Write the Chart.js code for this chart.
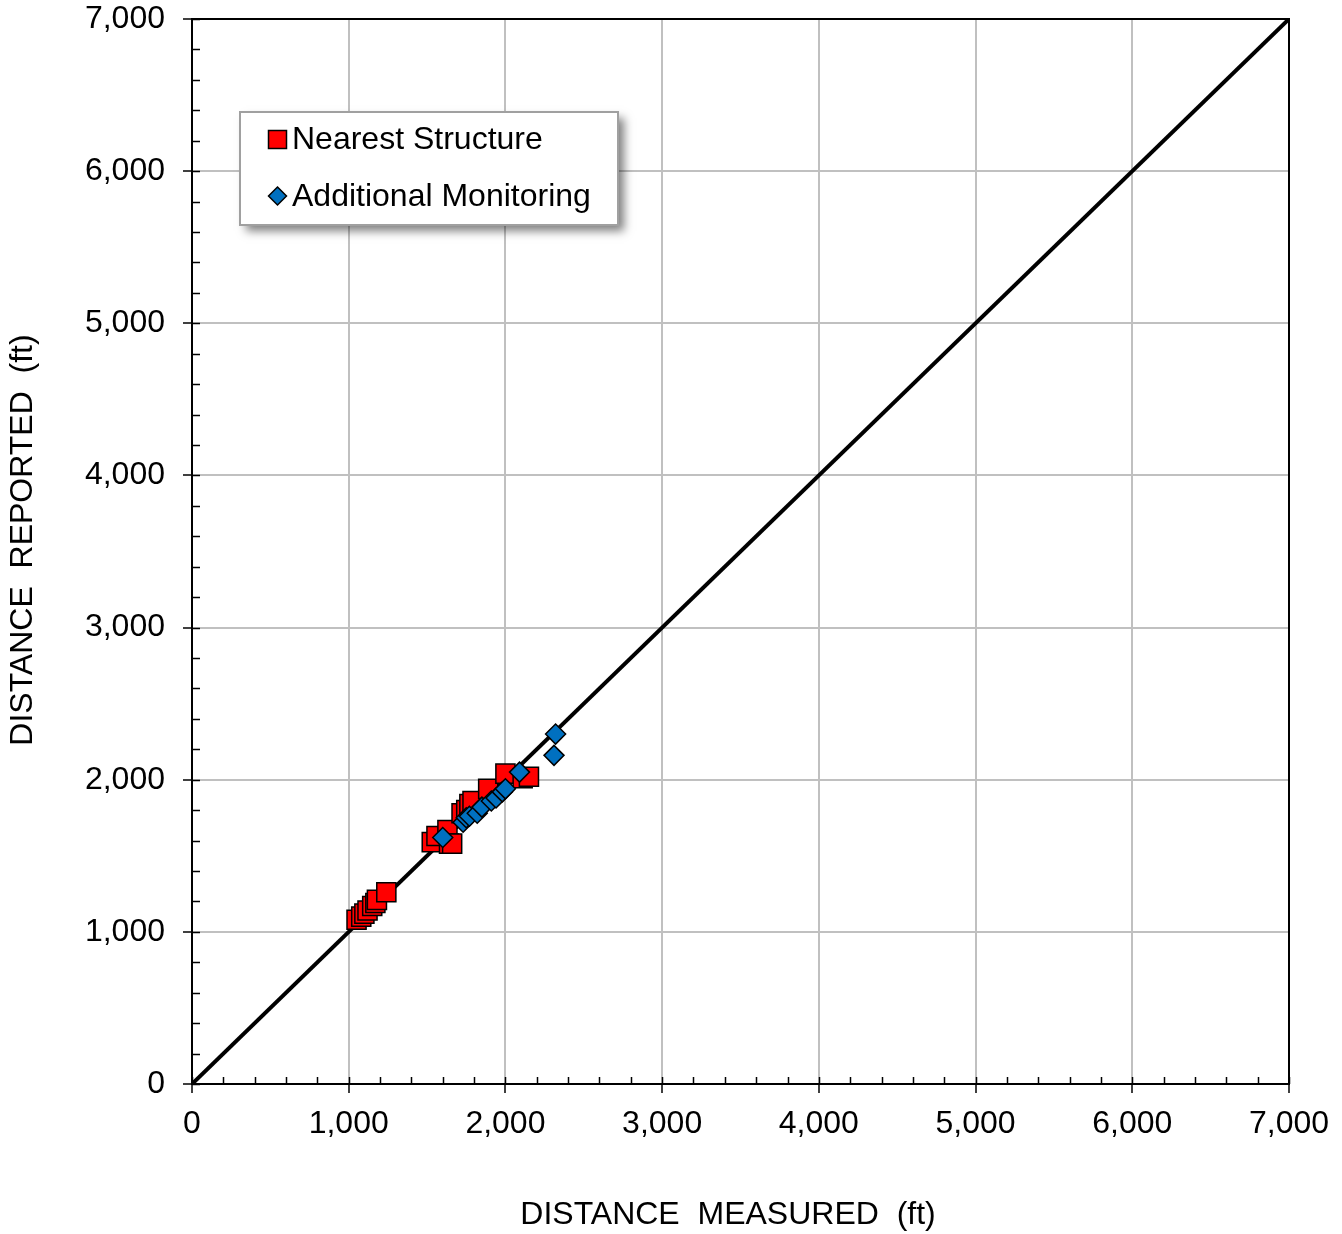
<!DOCTYPE html>
<html>
<head>
<meta charset="utf-8">
<script src="https://cdn.jsdelivr.net/npm/chart.js@4/dist/chart.umd.min.js"></script>
<style>
  html, body { margin: 0; padding: 0; background: #ffffff; }
  #wrap { width: 1342px; height: 1234px; }
</style>
</head>
<body>
<div id="wrap"><canvas id="c" width="1342" height="1234"></canvas></div>
<script>
// Nearest structure: measured vs reported distance (ft)
const nearestMeasured = [1050, 1080, 1100, 1120, 1150, 1170, 1180, 1240,
                         1530, 1560, 1630, 1640, 1660,
                         1720, 1750, 1770, 1790, 1890, 2000, 2110, 2150];
const nearestReported = [1080, 1100, 1120, 1140, 1170, 1190, 1210, 1260,
                         1590, 1630, 1670, 1580, 1580,
                         1780, 1800, 1840, 1860, 1940, 2040, 2010, 2020];

// Additional monitoring locations
const monitorMeasured = [1600, 1730, 1750, 1770, 1820, 1850, 1910, 1940, 1980, 2000, 2090, 2310, 2320];
const monitorReported = [1620, 1720, 1750, 1760, 1780, 1820, 1860, 1880, 1920, 1940, 2050, 2160, 2300];

// 1:1 reference line
const unityX = [0, 7000];
const unityY = [0, 7000];

// Axis ticks (ft)
const axisMin = 0;
const axisMax = 7000;
const majorStep = 1000;
const minorStep = 200;

const seriesNames = ['Nearest Structure', 'Additional Monitoring'];

const FONT = '"Liberation Sans", Arial, sans-serif';
const RED = '#ff0000';
const BLUE = '#0070c0';

const toPoints = (xs, ys) => xs.map((x, i) => ({ x, y: ys[i] }));

const frameAndTicks = {
  id: 'frameAndTicks',
  beforeDatasetsDraw(chart) {
    const { ctx, chartArea: a, scales: { x, y } } = chart;
    ctx.save();
    // plot frame (top and right edges)
    ctx.strokeStyle = '#000';
    ctx.lineWidth = 2;
    ctx.beginPath();
    ctx.moveTo(a.left, a.top);
    ctx.lineTo(a.right, a.top);
    ctx.lineTo(a.right, a.bottom);
    ctx.stroke();
    // inward tick marks, minor and major
    ctx.lineWidth = 1.5;
    ctx.beginPath();
    for (let v = axisMin; v <= axisMax; v += minorStep) {
      const px = Math.round(x.getPixelForValue(v)) + 0.5;
      ctx.moveTo(px, a.bottom);
      ctx.lineTo(px, a.bottom - 7);
      const py = Math.round(y.getPixelForValue(v)) + 0.5;
      ctx.moveTo(a.left, py);
      ctx.lineTo(a.left + 8, py);
    }
    ctx.stroke();
    ctx.restore();
  },
  afterDraw(chart) {
    const { ctx } = chart;
    ctx.save();
    ctx.fillStyle = '#000';
    ctx.font = '32px ' + FONT;
    ctx.textAlign = 'center';
    ctx.textBaseline = 'middle';
    // axis titles
    ctx.fillText('DISTANCE  MEASURED  (ft)', 728, 1215);
    ctx.translate(23, 540);
    ctx.rotate(-Math.PI / 2);
    ctx.fillText('DISTANCE  REPORTED  (ft)', 0, 0);
    ctx.restore();

    // legend box
    ctx.save();
    const bx = 240, by = 112, bw = 378, bh = 113;
    ctx.shadowColor = 'rgba(0,0,0,0.5)';
    ctx.shadowBlur = 9;
    ctx.shadowOffsetX = 6;
    ctx.shadowOffsetY = 6;
    ctx.fillStyle = '#ffffff';
    ctx.fillRect(bx, by, bw, bh);
    ctx.shadowColor = 'transparent';
    ctx.strokeStyle = '#a0a0a0';
    ctx.lineWidth = 2;
    ctx.strokeRect(bx, by, bw, bh);

    // markers
    ctx.lineWidth = 1.5;
    ctx.strokeStyle = '#000';
    ctx.fillStyle = RED;
    ctx.fillRect(268.5, 130.5, 18, 18);
    ctx.strokeRect(268.5, 130.5, 18, 18);
    ctx.fillStyle = BLUE;
    ctx.beginPath();
    ctx.moveTo(277.5, 187);
    ctx.lineTo(286.5, 196);
    ctx.lineTo(277.5, 205);
    ctx.lineTo(268.5, 196);
    ctx.closePath();
    ctx.fill();
    ctx.stroke();

    ctx.fillStyle = '#000';
    ctx.font = '32px ' + FONT;
    ctx.textAlign = 'left';
    ctx.textBaseline = 'middle';
    ctx.fillText(seriesNames[0], 292, 140);
    ctx.fillText(seriesNames[1], 292, 197);
    ctx.restore();
  }
};

const axisCommon = {
  type: 'linear',
  min: axisMin,
  max: axisMax,
  border: { display: true, color: '#000', width: 2 },
  grid: {
    color: '#c0c0c0',
    lineWidth: 2,
    tickColor: '#000',
    tickLength: 9,
    tickWidth: 1.5
  }
};

new Chart(document.getElementById('c'), {
  type: 'scatter',
  data: {
    datasets: [
      {
        label: seriesNames[1],
        data: toPoints(monitorMeasured, monitorReported),
        pointStyle: 'rectRot',
        pointRadius: 10,
        pointBackgroundColor: BLUE,
        pointBorderColor: '#000',
        pointBorderWidth: 1.5,
        order: 1
      },
      {
        label: seriesNames[0],
        data: toPoints(nearestMeasured, nearestReported),
        pointStyle: 'rect',
        pointRadius: 13.5,
        pointBackgroundColor: RED,
        pointBorderColor: '#000',
        pointBorderWidth: 1.5,
        order: 2
      },
      {
        label: '1:1',
        type: 'line',
        data: toPoints(unityX, unityY),
        borderColor: '#000',
        borderWidth: 4,
        pointRadius: 0,
        fill: false,
        order: 3
      }
    ]
  },
  options: {
    responsive: false,
    animation: false,
    devicePixelRatio: 1,
    layout: { padding: { left: 0, top: 19, right: 53, bottom: 0 } },
    plugins: {
      legend: { display: false },
      tooltip: { enabled: false }
    },
    scales: {
      x: Object.assign({}, axisCommon, {
        position: 'bottom',
        ticks: {
          stepSize: majorStep,
          color: '#000',
          font: { family: FONT, size: 32 },
          padding: 12,
          maxRotation: 0,
          autoSkip: false
        },
        afterFit(scale) {
          scale.height = 150;
          scale.paddingLeft = 0;
          scale.paddingRight = 0;
        }
      }),
      y: Object.assign({}, axisCommon, {
        position: 'left',
        ticks: {
          stepSize: majorStep,
          color: '#000',
          font: { family: FONT, size: 32 },
          padding: 18,
          autoSkip: false
        },
        afterFit(scale) {
          scale.width = 192;
          scale.paddingTop = 0;
          scale.paddingBottom = 0;
        }
      })
    }
  },
  plugins: [frameAndTicks]
});
</script>
</body>
</html>
